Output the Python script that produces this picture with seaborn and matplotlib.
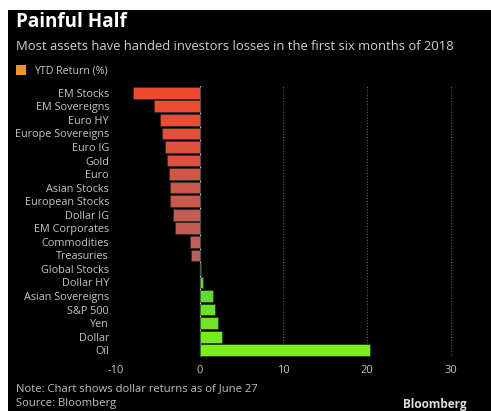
import matplotlib
matplotlib.use("Agg")
import matplotlib.pyplot as plt
import matplotlib.patches as mpatches
from matplotlib.colors import to_rgb
import numpy as np
import pandas as pd
import seaborn as sns

categories = ["EM Stocks", "EM Sovereigns", "Euro HY", "Europe Sovereigns", "Euro IG",
              "Gold", "Euro", "Asian Stocks", "European Stocks", "Dollar IG",
              "EM Corporates", "Commodities", "Treasuries", "Global Stocks", "Dollar HY",
              "Asian Sovereigns", "S&P 500", "Yen", "Dollar", "Oil"]
ytd_return = [-8.0, -5.4, -4.7, -4.5, -4.2, -3.9, -3.7, -3.6, -3.5, -3.2,
              -3.0, -1.2, -1.0, 0.2, 0.35, 1.6, 1.8, 2.2, 2.7, 20.4]
x_ticks = [-10, 0, 10, 20, 30]

title = "Painful Half"
subtitle = "Most assets have handed investors losses in the first six months of 2018"
legend_label = "YTD Return (%)"
note = "Note: Chart shows dollar returns as of June 27"
source = "Source: Bloomberg"

df = pd.DataFrame({"asset": categories, "ret": ytd_return})

# Shade losses from bright red to dusty rose, gains from mid green to lime
def blend(c1, c2, t):
    a, b = np.array(to_rgb(c1)), np.array(to_rgb(c2))
    return tuple(a + (b - a) * t)

neg_idx = [i for i, v in enumerate(ytd_return) if v < 0]
pos_idx = [i for i, v in enumerate(ytd_return) if v >= 0]
colors = [None] * len(ytd_return)
for k, i in enumerate(neg_idx):
    colors[i] = blend("#f04a2e", "#b8605c", k / max(len(neg_idx) - 1, 1))
for k, i in enumerate(pos_idx):
    colors[i] = blend("#5ccf38", "#78f01a", k / max(len(pos_idx) - 1, 1))

sns.set_theme(style="dark")
plt.rcParams["font.family"] = ["Open Sans", "DejaVu Sans"]

W, H = 491, 411
fig = plt.figure(figsize=(W / 100, H / 100), dpi=100, facecolor="white")
# black card behind the chart
fig.patches.append(mpatches.Rectangle((8 / W, 0), 1 - 8 / W, 1 - 10 / H,
                                      transform=fig.transFigure, facecolor="black",
                                      edgecolor="none", zorder=-10))

ax = fig.add_axes([116 / W, 1 - 357 / H, 351.5 / W, 271 / H])
ax.set_facecolor("black")

sns.barplot(data=df, x="ret", y="asset", hue="asset", palette=colors,
            legend=False, ax=ax, width=0.86, edgecolor="#2a2a2a", linewidth=0.5,
            saturation=1, zorder=3)

ax.set_xlim(-10, 32)
ax.set_ylim(len(categories) - 0.5, -0.5)
ax.set_xticks(x_ticks)
ax.set_xticklabels([str(t) for t in x_ticks])
ax.tick_params(axis="x", labelsize=8, length=0, pad=6)
ax.tick_params(axis="y", labelsize=7.8, length=0, pad=5)
for lbl in ax.get_yticklabels() + ax.get_xticklabels():
    lbl.set_color("#c4c4c4")
ax.set_xlabel("")
ax.set_ylabel("")
ax.grid(False)
for s in ax.spines.values():
    s.set_visible(False)

for t in [10, 20, 30]:
    ax.axvline(t, color="#5a5a5a", lw=0.8, ls=(0, (1, 1.5)), zorder=1)
ax.axvline(0, color="#cfcfcf", lw=0.8, zorder=2)

fig.text(16 / W, 1 - 22 / H, title, color="white", fontsize=13.6, fontweight="bold",
         va="center", ha="left")
fig.text(16 / W, 1 - 46 / H, subtitle, color="#d0d0d0", fontsize=9.4,
         va="center", ha="left")
fig.patches.append(mpatches.Rectangle((16 / W, 1 - 75 / H), 10 / W, 10 / H,
                                      transform=fig.transFigure, facecolor="#f0922e",
                                      edgecolor="none", zorder=2))
fig.text(34 / W, 1 - 70.5 / H, legend_label, color="#c8c8c8", fontsize=7.7,
         va="center", ha="left")
fig.text(16 / W, 1 - 389 / H, note, color="#c0c0c0", fontsize=8.1,
         va="center", ha="left")
fig.text(16 / W, 1 - 403 / H, source, color="#c0c0c0", fontsize=8.1,
         va="center", ha="left")
fig.text(467 / W, 1 - 404 / H, "Bloomberg", color="#dcdcdc", fontsize=8.5,
         fontweight="bold", va="center", ha="right")

fig.savefig("out.png", dpi=100, facecolor="white")
